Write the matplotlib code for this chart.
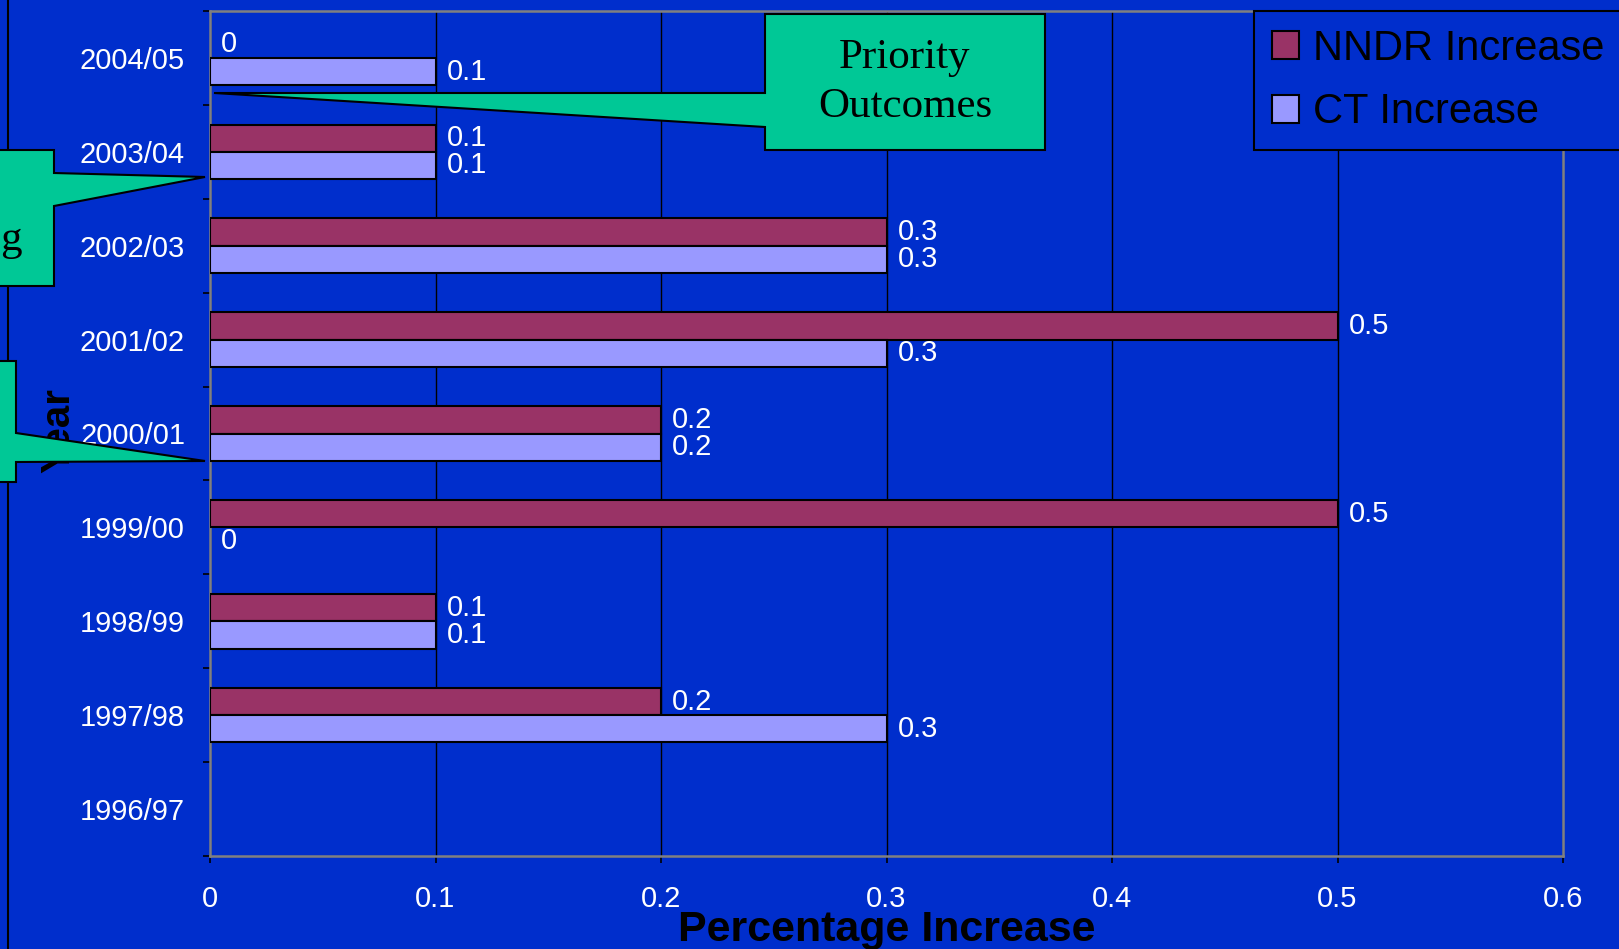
import numpy as np
import matplotlib.pyplot as plt
from matplotlib.patches import Polygon

# ---------------------------------------------------------------
# data (bottom -> top)
# ---------------------------------------------------------------
years = ['1996/97', '1997/98', '1998/99', '1999/00', '2000/01',
         '2001/02', '2002/03', '2003/04', '2004/05']
nndr = [np.nan, 0.2, 0.1, 0.5, 0.2, 0.5, 0.3, 0.1, 0.0]
ct = [np.nan, 0.3, 0.1, 0.0, 0.2, 0.3, 0.3, 0.1, 0.1]
x_ticks = [0, 0.1, 0.2, 0.3, 0.4, 0.5, 0.6]

BLUE = '#002ECC'
NNDR_C = '#993366'
CT_C = '#9999FF'
GREEN = '#00C896'
SANS = 'Liberation Sans'
SERIF = 'Liberation Serif'

W, H = 1619, 949
fig = plt.figure(figsize=(W / 100, H / 100), dpi=100, facecolor=BLUE)
ax = fig.add_axes([210 / W, 1 - 856 / H, (1563 - 210) / W, (856 - 11) / H])
ax.set_facecolor(BLUE)

y = np.arange(len(years))
bh = 0.29
b1 = ax.barh(y + bh / 2, nndr, height=bh, color=NNDR_C, edgecolor='black',
             linewidth=1.5, label='NNDR Increase', zorder=3)
b2 = ax.barh(y - bh / 2, ct, height=bh, color=CT_C, edgecolor='black',
             linewidth=1.5, label='CT Increase', zorder=3)

# zero-length bars draw nothing in the original
for bars in (b1, b2):
    for r in bars.patches:
        if r.get_width() == 0:
            r.set_linewidth(0)

def lab(vals):
    return ['' if np.isnan(v) else f'{v:g}' for v in vals]

ax.bar_label(b1, labels=lab(nndr), padding=8, color='white', fontsize=21, family=SANS)
ax.bar_label(b2, labels=lab(ct), padding=8, color='white', fontsize=21, family=SANS)

# axes
ax.set_xlim(0, 0.6)
ax.set_ylim(-0.5, len(years) - 0.5)
ax.set_xticks(x_ticks)
ax.set_xticklabels([f'{t:g}' for t in x_ticks], color='white', fontsize=21, family=SANS)
ax.tick_params(axis='x', length=5, width=1.2, color='black', pad=16)
ax.set_yticks(y)
ax.set_yticklabels(years, color='white', fontsize=21, family=SANS)
ax.set_yticks(np.arange(-0.5, len(years)), minor=True)
ax.tick_params(axis='y', which='major', length=0, pad=18)
ax.tick_params(axis='y', which='minor', length=5, width=1.2, color='black')
ax.grid(axis='x', color='black', linewidth=1)
ax.set_axisbelow(True)
for s in ax.spines.values():
    s.set_color('#808080')
    s.set_linewidth(1.8)

ax.set_xlabel('Percentage Increase', fontsize=31, fontweight='bold', family=SANS, color='black')
ax.xaxis.set_label_coords(0.5, -0.088)
ax.xaxis.label.set_va('center')
ax.set_ylabel('Year', fontsize=29, fontweight='bold', family=SANS, color='black')
ax.yaxis.set_label_coords(-0.112, 0.504)
ax.yaxis.label.set_va('center')

leg = ax.legend(loc='upper left', bbox_to_anchor=(1254 / W, 1 - 11 / H),
                bbox_transform=fig.transFigure, borderaxespad=0, fancybox=False,
                facecolor=BLUE, edgecolor='black', framealpha=1,
                prop={'family': SANS, 'size': 30}, handlelength=0.65, handleheight=0.65,
                handletextpad=0.35, labelspacing=0.57, borderpad=0.42)
leg.get_frame().set_linewidth(1.5)

# ---------------------------------------------------------------
# slide callouts (overlay in pixel coords)
# ---------------------------------------------------------------
ov = fig.add_axes([0, 0, 1, 1], zorder=5)
ov.set_xlim(0, W)
ov.set_ylim(H, 0)
ov.axis('off')

ov.plot([8, 8], [0, H], color='black', lw=1.5, zorder=1)

shapes = [
    [(765, 14), (1045, 14), (1045, 150), (765, 150), (765, 127), (214, 93), (765, 93)],
    [(-10, 150), (54, 150), (54, 173), (205, 177), (54, 206), (54, 286), (-10, 286)],
    [(-10, 361), (16, 361), (16, 433), (205, 461), (16, 462), (16, 482), (-10, 482)],
]
for pts in shapes:
    ov.add_patch(Polygon(pts, closed=True, facecolor=GREEN, edgecolor='black',
                         linewidth=1.5, zorder=2))

ov.text(905, 82, 'Priority\nOutcomes', ha='center', va='center', fontsize=31,
        family=SERIF, color='black', linespacing=1.35, zorder=3)
ov.text(0, 240, 'g', ha='left', va='center', fontsize=31, family=SERIF,
        color='black', zorder=3)

fig.savefig('out.png', dpi=100, facecolor=BLUE)
